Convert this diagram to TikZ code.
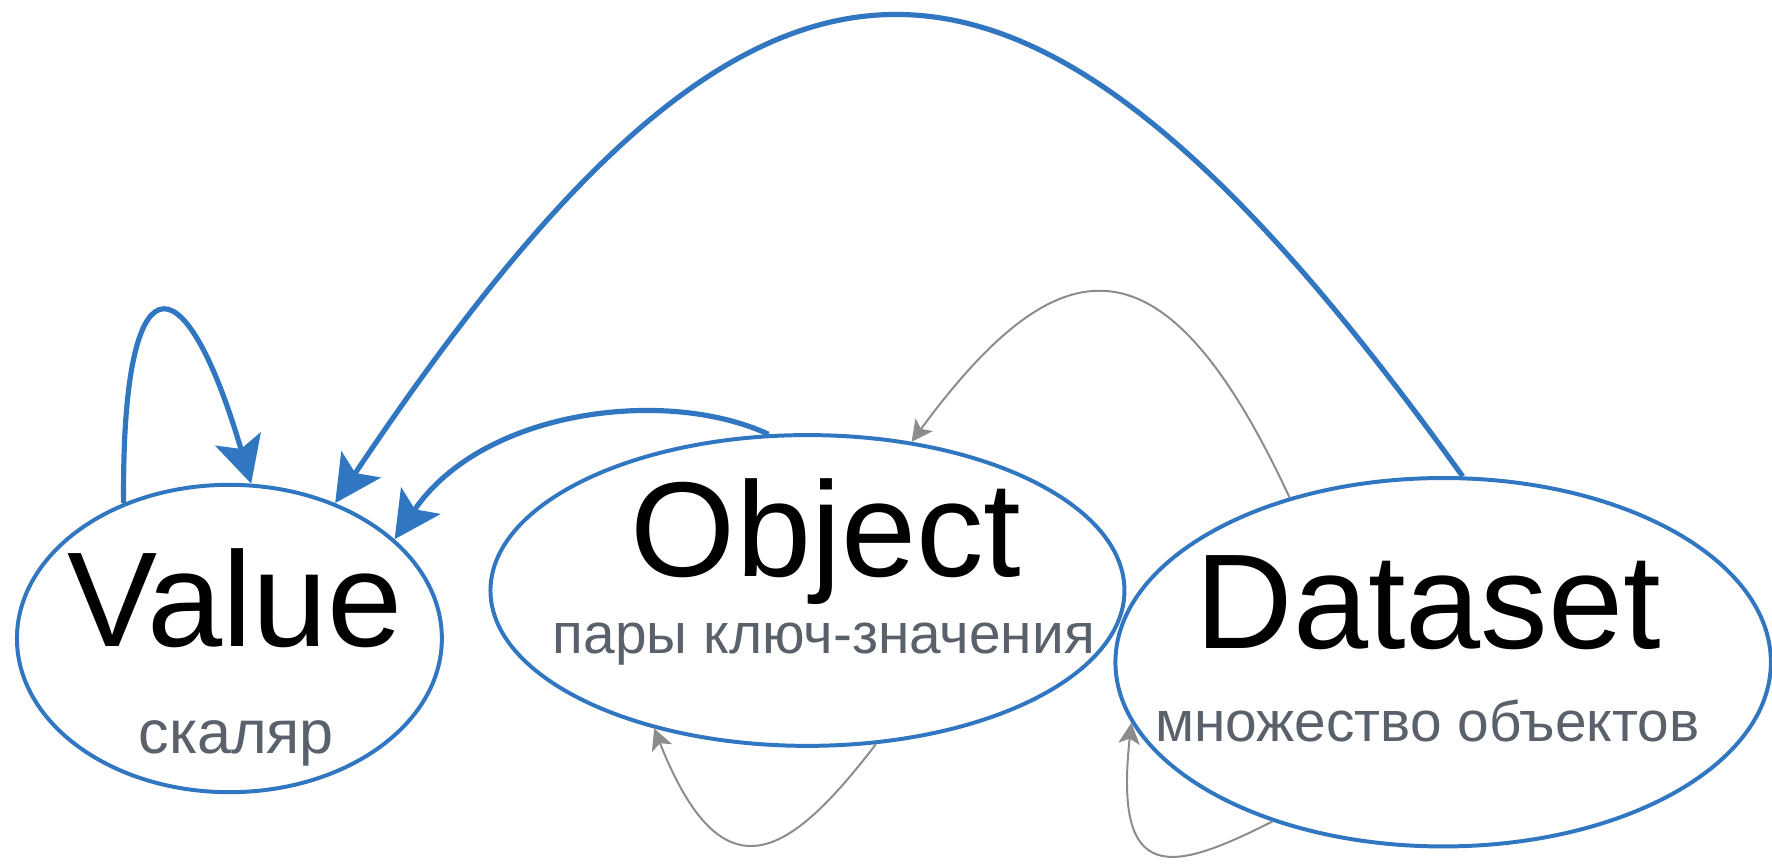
\documentclass[tikz,border=0pt]{standalone}
\usepackage{fontspec}
\setmainfont{Liberation Sans}
\usetikzlibrary{shapes.geometric,arrows.meta}
\definecolor{setblue}{RGB}{48,118,192}
\definecolor{arcgray}{RGB}{140,140,140}
\definecolor{notegray}{RGB}{90,97,107}
\begin{document}
\begin{tikzpicture}[
    kind/.style={draw=setblue,line width=1pt,ellipse,inner sep=0pt},
    kindname/.style={anchor=base,font=\fontsize{34}{40}\selectfont},
    kindnote/.style={anchor=base,text=notegray,font=\fontsize{14.3}{17}\selectfont},
    strong/.style={draw=setblue,line width=1.3pt,-{Stealth[length=11.7pt,width=11.9pt,inset=2.6pt]}},
    weak/.style={draw=arcgray,line width=0.5pt,-{Stealth[length=5.3pt,width=5.4pt,inset=1.3pt]}}
  ]
    \useasboundingbox (0,0) rectangle (15.68,7.65);
    \node[kind,minimum width=3.76cm,minimum height=2.72cm] (value) at (2.03,2.00) {};
    \node[kind,minimum width=5.61cm,minimum height=2.75cm] (object) at (7.145,2.425) {};
    \node[kind,minimum width=5.80cm,minimum height=3.26cm] (dataset) at (12.77,1.79) {};
    % blue arrows into Value
    \draw[strong] (value.128.8) .. controls +(-0.02,2.17) and +(-0.61,2.07) .. (value.82.6);
    \draw[strong] (object.104.3) .. controls +(-0.9,0.42) and +(0.78,1.15) .. (value.31.1);
    \draw[strong] (dataset.84.8) .. controls +(-3.93,5.47) and +(3.79,5.66) .. (value.52.2);
    % gray arrows
    \draw[weak] (dataset.133.6) .. controls +(-1.11,2.39) and +(1.31,1.78) .. (object.55.9);
    \draw[weak] (object.-66.9) .. controls +(-0.76,-0.99) and +(0.61,-1.54) .. (object.222);
    \draw[weak] (dataset.223.2) .. controls +(-0.89,-0.45) and +(-0.16,-1.45) .. (dataset.191.3);
    % labels
    \node[kindname] (valuename) at (2.08,1.93) {Value};
    \node[kindnote,font=\fontsize{15.4}{18}\selectfont] (valuenote) at (2.09,0.98) {скаляр};
    \node[kindname] (objectname) at (7.31,2.55) {Object};
    \node[kindnote] (objectnote) at (7.29,1.87) {пары ключ-значения};
    \node[kindname] (datasetname) at (12.64,1.91) {Dataset};
    \node[kindnote] (datasetnote) at (12.63,1.09) {множество объектов};
\end{tikzpicture}
\end{document}
